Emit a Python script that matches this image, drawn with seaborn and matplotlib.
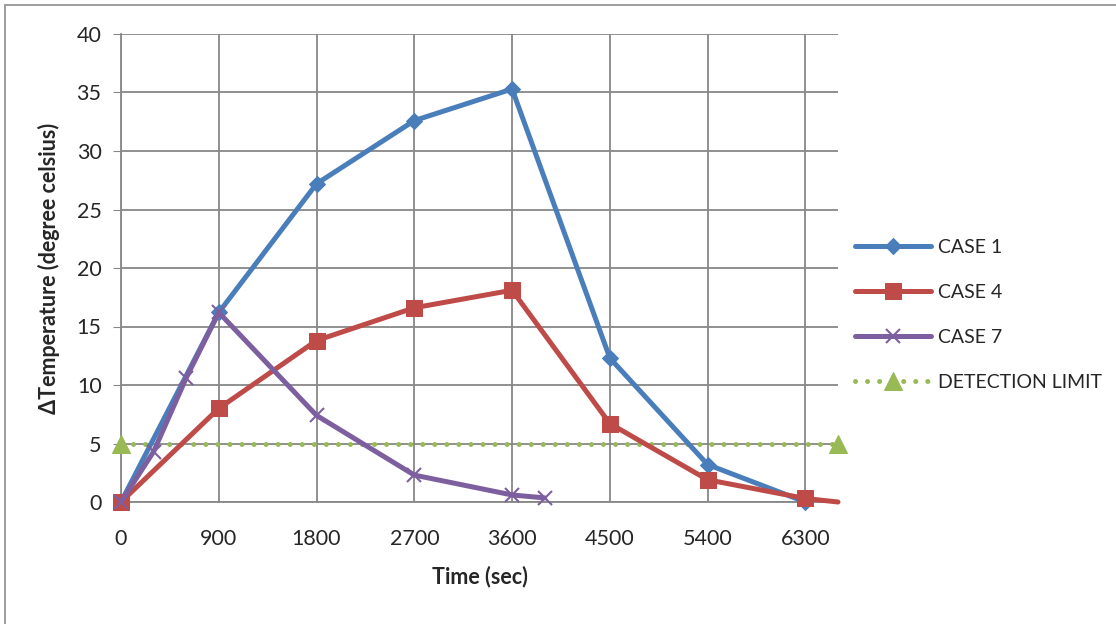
import pandas as pd
import matplotlib
matplotlib.use('Agg')
import matplotlib.pyplot as plt
import seaborn as sns
from matplotlib.patches import Rectangle

# values
time_case1 = [0, 900, 1800, 2700, 3600, 4500, 5400, 6300]
case1 = [0, 16.2, 27.2, 32.6, 35.3, 12.3, 3.2, 0]

time_case4 = [0, 900, 1800, 2700, 3600, 4500, 5400, 6300, 6600]
case4 = [0, 8.0, 13.8, 16.6, 18.1, 6.7, 1.9, 0.3, 0.0]

time_case7 = [0, 300, 600, 900, 1800, 2700, 3600, 3900]
case7 = [0, 4.3, 10.6, 16.2, 7.4, 2.3, 0.6, 0.35]

time_limit = [0, 6600]
detection_limit = [5, 5]

x_ticks = [0, 900, 1800, 2700, 3600, 4500, 5400, 6300]
y_ticks = [0, 5, 10, 15, 20, 25, 30, 35, 40]

sns.set_style('white')
plt.rcParams['font.family'] = ['Lato', 'DejaVu Sans']

fig = plt.figure(figsize=(11.16, 6.24), dpi=100)
ax = fig.add_axes([121 / 1116, 1 - 502 / 624, (838 - 121) / 1116, (502 - 34) / 624])

# outer chart border
fig.patches.append(Rectangle((5 / 1116, -0.05), 1.1, 1 - 5 / 624 + 0.05,
                             transform=fig.transFigure, fill=False,
                             edgecolor='#8c8c8c', linewidth=1.2))

blue, red, purple, green = '#4a7ebb', '#be4b48', '#7d5fa0', '#98b954'

df1 = pd.DataFrame({'t': time_case1, 'v': case1})
df4 = pd.DataFrame({'t': time_case4, 'v': case4})
df7 = pd.DataFrame({'t': time_case7, 'v': case7})
dfl = pd.DataFrame({'t': time_limit, 'v': detection_limit})

lw = 3.6
sns.lineplot(data=dfl, x='t', y='v', ax=ax, color=green, linewidth=3.6,
             linestyle=(0, (0.01, 2.4)), dash_capstyle='round', marker='^',
             markersize=13, markeredgecolor=green, label='DETECTION LIMIT',
             clip_on=False, zorder=3)
sns.lineplot(data=df1, x='t', y='v', ax=ax, color=blue, linewidth=lw,
             marker='D', markersize=8, markeredgecolor=blue, label='CASE 1',
             clip_on=False, zorder=4)
sns.lineplot(data=df4, x='t', y='v', ax=ax, color=red, linewidth=lw,
             marker='s', markersize=12, markeredgecolor=red, label='CASE 4',
             markevery=list(range(len(case4) - 1)), clip_on=False, zorder=5)
sns.lineplot(data=df7, x='t', y='v', ax=ax, color=purple, linewidth=lw,
             marker='x', markersize=10, markeredgewidth=1.5,
             markeredgecolor=purple, label='CASE 7', clip_on=False, zorder=6)

ax.set_xlim(0, 6600)
ax.set_ylim(0, 40)
ax.set_xticks(x_ticks)
ax.set_yticks(y_ticks)
ax.grid(True, color='#878787', linewidth=1.3)
ax.set_axisbelow(True)
for s in ['top', 'right']:
    ax.spines[s].set_visible(False)
for s in ['left', 'bottom']:
    ax.spines[s].set_color('#878787')
    ax.spines[s].set_linewidth(1.3)
ax.tick_params(axis='y', which='both', left=True, length=6, color='#878787',
               labelsize=15.5, pad=8)
ax.tick_params(axis='x', bottom=False, labelsize=15.5, pad=16)

ax.set_xlabel('Time (sec)', fontsize=15.5, fontweight='bold', labelpad=12)
ax.set_ylabel('ΔTemperature (degree celsius)', fontsize=15.5, fontweight='bold',
              labelpad=12)

handles, labels = ax.get_legend_handles_labels()
order = ['CASE 1', 'CASE 4', 'CASE 7', 'DETECTION LIMIT']
hs = [handles[labels.index(l)] for l in order]
ax.legend(hs, order, loc='center left', bbox_to_anchor=(1.0, 0.40),
          frameon=False, fontsize=14, labelspacing=1.45, handlelength=3.9,
          handletextpad=0.35, numpoints=1)

fig.savefig('out.png', dpi=100)
